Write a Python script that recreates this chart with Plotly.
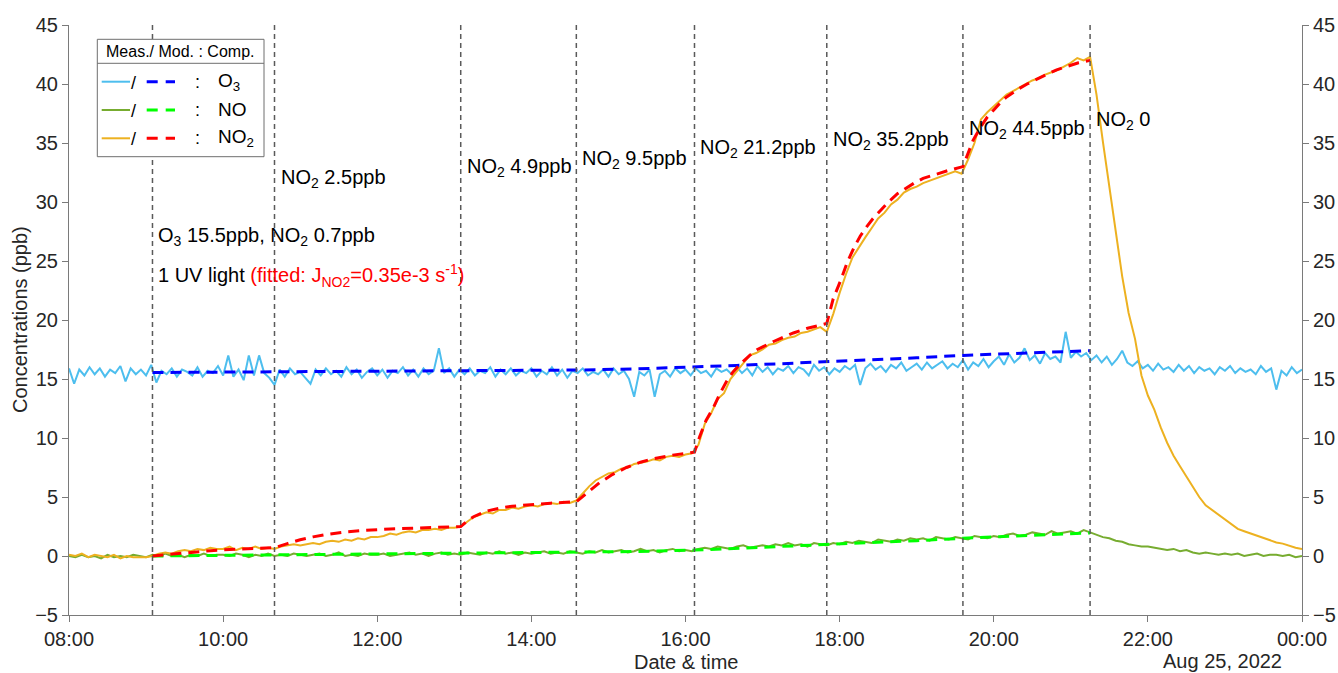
import plotly.graph_objects as go
import pandas as pd

DAY = "2022-08-24"
NEXT_DAY = "2022-08-25"

# ---------------- data ----------------
step_times = ["09:05", "10:40", "13:05", "14:35", "16:07", "17:50", "19:36", "21:15"]

# measured NO2, 5-min steps from 08:00 to 00:00
no2_meas = [
    0.1, 0.0, 0.2, -0.1, 0.1, 0.0, -0.1, 0.1, -0.2, 0.0, -0.1, -0.1,
    -0.1, 0.0, 0.2, 0.3, 0.2, 0.4, 0.5, 0.4, 0.6, 0.5, 0.7, 0.6,
    0.6, 0.8, 0.5, 0.7, 0.6, 0.8, 0.6, 0.7, 0.6, 0.8, 0.9, 1.0,
    0.9, 1.0, 1.1, 1.0, 1.2, 1.3, 1.2, 1.4, 1.3, 1.5, 1.4, 1.6,
    1.6, 1.7, 1.9, 1.8, 2.0, 2.1, 2.0, 2.2, 2.2, 2.3, 2.2, 2.4,
    2.4, 2.5, 2.9, 3.3, 3.5, 3.7, 3.6, 3.9, 3.9, 4.1, 4.0, 4.2,
    4.3, 4.2, 4.4, 4.5, 4.4, 4.6, 4.5, 4.7, 5.3, 5.9, 6.4, 6.7,
    7.0, 7.1, 7.4, 7.5, 7.8, 7.9, 8.0, 8.2, 8.1, 8.4, 8.5, 8.4,
    8.6, 8.7, 9.4, 11.2, 12.1, 13.3, 13.8, 15.0, 15.7, 16.4, 17.0, 17.2,
    17.5, 17.9, 18.0, 18.3, 18.5, 18.6, 18.9, 19.0, 19.2, 19.4, 19.0, 20.5,
    22.3, 23.9, 25.3, 26.2, 27.0, 27.8, 28.6, 29.1, 29.8, 30.2, 30.8, 31.1,
    31.3, 31.6, 31.8, 32.0, 32.2, 32.4, 32.6, 32.4, 33.6, 35.0, 37.0, 37.6,
    38.1, 38.6, 39.1, 39.4, 39.7, 40.0, 40.3, 40.5, 40.8, 41.0, 41.2, 41.5,
    41.8, 42.2, 42.0, 42.3, 39.1, 35.1, 31.3, 27.1, 23.7, 20.6, 18.4, 15.3,
    13.6, 12.4, 10.9, 9.6, 8.5, 7.6, 6.7, 5.8, 5.0, 4.3, 3.9, 3.5,
    3.1, 2.7, 2.3, 2.1, 1.9, 1.7, 1.5, 1.35, 1.15, 1.05, 0.85, 0.7,
    0.6,
]

# measured NO, 5-min steps from 08:00 to 00:00
no_meas = [
    0.0, -0.1, 0.1, -0.1, 0.0, -0.2, 0.1, -0.1, 0.0, -0.1, 0.1, 0.0,
    -0.1, 0.1, 0.0, 0.2, 0.0, 0.1, -0.1, 0.1, 0.0, 0.2, 0.0, 0.1,
    0.1, 0.0, 0.2, 0.1, -0.1, 0.1, 0.0, 0.2, 0.0, 0.1, 0.0, 0.2,
    0.1, 0.0, 0.1, 0.2, 0.0, 0.1, 0.3, 0.0, 0.1, 0.0, 0.2, 0.1,
    0.1, 0.2, 0.0, 0.1, 0.2, 0.3, 0.1, 0.2, 0.0, 0.2, 0.3, 0.1,
    0.2, 0.1, 0.3, 0.2, 0.1, 0.3, 0.2, 0.4, 0.2, 0.3, 0.1, 0.3,
    0.2, 0.3, 0.4, 0.2, 0.3, 0.2, 0.4, 0.3, 0.2, 0.4, 0.3, 0.5,
    0.3, 0.4, 0.5, 0.3, 0.4, 0.6, 0.4, 0.5, 0.3, 0.5, 0.6, 0.4,
    0.5, 0.4, 0.6, 0.7, 0.6, 0.8, 0.7, 0.6, 0.8, 0.9, 0.7, 0.8,
    0.9, 0.8, 1.0, 0.9, 1.1, 0.9, 1.0, 0.8, 1.1, 1.0, 0.9, 1.1,
    1.0, 1.2, 1.1, 1.3, 1.2, 1.1, 1.4, 1.3, 1.2, 1.4, 1.3, 1.5,
    1.4, 1.5, 1.3, 1.6, 1.5, 1.4, 1.6, 1.5, 1.4, 1.7, 1.6, 1.5,
    1.7, 1.6, 1.8, 1.9, 1.7, 1.8, 2.0, 1.9, 1.8, 2.1, 1.9, 2.0,
    2.1, 1.9, 2.2, 2.0, 1.8, 1.6, 1.5, 1.3, 1.2, 1.0, 0.9, 0.8,
    0.8, 0.7, 0.6, 0.5, 0.6, 0.4, 0.5, 0.3, 0.2, 0.3, 0.2, 0.1,
    0.2, 0.1, 0.2, 0.0, 0.1, 0.2, 0.0, 0.1, 0.1, 0.0, 0.1, -0.1,
    0.0,
]

# measured O3, 4-min steps from 08:00 to 00:00
o3_meas = [
    15.9, 14.6, 15.8, 15.3, 16.0, 15.4, 15.9, 15.2, 15.8, 15.5, 16.1, 14.8, 15.9, 15.4, 15.8,
    15.3, 16.2, 14.7, 15.7, 15.4, 15.9, 15.2, 15.8, 15.6, 15.3, 16.0, 15.2, 15.7, 15.5, 16.1,
    15.3, 17.0, 15.2, 15.8, 14.9, 17.0, 15.3, 17.0, 15.5, 15.1, 14.5, 15.8, 15.2, 15.9, 15.4,
    15.6, 15.1, 14.6, 15.8, 15.3, 15.9, 15.4, 15.7, 15.2, 16.0, 15.4, 15.8, 15.1, 15.6, 15.9,
    15.3, 15.8, 15.1, 15.7, 15.5, 16.0, 15.3, 15.8, 15.2, 15.9, 15.4, 15.7, 17.6, 15.5, 15.9,
    15.2, 15.8, 15.4, 15.9, 15.3, 15.7, 15.5, 16.0, 15.2, 15.8, 15.4, 15.9, 15.3, 15.7, 15.5,
    15.9, 15.2, 15.7, 15.4, 16.0, 15.3, 15.8, 15.1, 15.7, 15.5, 15.9, 15.3, 15.6, 15.4, 15.8,
    15.2, 15.9, 15.4, 15.7, 15.0, 13.5, 15.6, 15.3, 15.8, 13.5, 15.4, 15.7, 15.2, 15.9, 15.5,
    15.8, 15.3, 15.9, 15.5, 15.7, 15.2, 15.9, 15.6, 15.8, 15.4, 16.0, 15.5, 15.9, 15.3, 16.1,
    15.6, 16.0, 15.4, 15.9, 15.7, 16.1, 15.5, 16.0, 15.8, 15.3, 16.2, 15.7, 16.0, 15.4, 15.9,
    15.6, 16.1, 15.8, 16.2, 14.5, 15.9, 16.3, 15.8, 16.1, 15.6, 16.2, 15.9, 16.4, 15.7, 16.0,
    16.3, 15.8, 16.4, 15.9, 16.2, 16.5, 15.9, 16.3, 16.0, 16.6, 15.8, 16.4, 16.1, 16.7, 16.0,
    16.5, 16.9, 16.2, 17.1, 16.4, 16.8, 17.6, 16.6, 17.0, 16.3, 17.2, 16.7, 16.9, 16.4, 19.0,
    16.8, 17.3, 16.9, 17.2, 16.6, 17.0, 16.4, 16.9, 16.2, 16.7, 17.4, 16.4, 16.1, 16.5, 15.9,
    16.2, 15.7, 16.3, 15.8, 16.0, 15.6, 16.2, 15.7, 16.1, 15.5, 16.0, 15.7, 15.9, 15.4, 16.0,
    15.7, 16.1, 15.5, 15.9, 15.6, 15.8, 15.4, 16.1, 15.6, 15.9, 14.1, 15.7, 15.3, 16.0, 15.5,
    15.8,
]

# modelled NO2
no2_mod_times = [
    "09:05", "09:20", "09:35", "09:50", "10:05", "10:20", "10:40",
    "10:50", "11:00", "11:10", "11:20", "11:35", "11:50", "12:10", "12:30", "12:50", "13:05",
    "13:10", "13:15", "13:25", "13:35", "13:45", "14:00", "14:15", "14:35",
    "14:43", "14:53", "15:03", "15:14", "15:25", "15:35", "15:50", "16:07",
    "16:11", "16:16", "16:22", "16:27", "16:32", "16:37", "16:43", "16:50", "16:56", "17:09", "17:24", "17:35", "17:50",
    "17:55", "18:01", "18:06", "18:11", "18:16", "18:21", "18:26", "18:32", "18:38", "18:45", "18:52", "18:58",
    "19:05", "19:13", "19:24", "19:36",
    "19:40", "19:44", "19:50", "19:55", "20:00", "20:05", "20:10", "20:18", "20:26", "20:33", "20:41", "20:49",
    "20:57", "21:06", "21:15",
]
no2_mod = [
    0.0, 0.17, 0.32, 0.45, 0.55, 0.63, 0.7,
    1.05, 1.38, 1.62, 1.82, 2.03, 2.17, 2.29, 2.38, 2.45, 2.5,
    2.95, 3.33, 3.8, 4.05, 4.22, 4.38, 4.48, 4.6,
    5.3, 6.2, 6.9, 7.5, 7.95, 8.25, 8.55, 8.8,
    10.1, 11.5, 12.65, 13.8, 14.8, 15.6, 16.3, 17.0, 17.5, 18.2, 18.9, 19.3, 19.7,
    21.8, 23.4, 24.9, 26.1, 27.1, 27.9, 28.6, 29.3, 30.0, 30.7, 31.2, 31.6,
    32.0, 32.3, 32.65, 33.0,
    34.2, 35.25, 36.4, 37.2, 37.8, 38.4, 38.9, 39.5, 40.0, 40.4, 40.8, 41.2,
    41.5, 41.8, 42.0,
]

# modelled O3 and NO
model_times = ["09:05", "10:40", "12:00", "13:05", "14:35", "15:20", "16:07", "16:40",
               "17:15", "17:50", "18:30", "19:00", "19:36", "20:10", "20:45", "21:15"]
o3_mod = [15.55, 15.6, 15.65, 15.68, 15.76, 15.85, 16.0, 16.15,
          16.3, 16.45, 16.65, 16.8, 17.0, 17.15, 17.28, 17.4]
no_mod = [0.0, 0.1, 0.15, 0.2, 0.3, 0.38, 0.5, 0.65,
          0.8, 0.95, 1.15, 1.3, 1.5, 1.65, 1.8, 1.95]

y_ticks = [-5, 0, 5, 10, 15, 20, 25, 30, 35, 40, 45]

# ---------------- helpers ----------------
def ts(hm):
    return pd.Timestamp(f"{DAY} {hm}")

t5 = pd.date_range(f"{DAY} 08:00", periods=len(no2_meas), freq="5min")
t4 = pd.date_range(f"{DAY} 08:00", periods=len(o3_meas), freq="4min")

W, H = 1338, 673
ML, MR, MT, MB = 69, 36, 25, 58   # plot area at page px x 69..1302, y 25..615
PW, PH = W - ML - MR, H - MT - MB


def fx(px):                       # page pixel -> paper
    return (px - ML) / PW


def fy(py):
    return (H - MB - py) / PH


C_O3 = "#4DBEEE"
C_NO = "#77AC30"
C_NO2 = "#EDB120"
C_O3M = "#0000FF"
C_NOM = "#00FF00"
C_NO2M = "#FF0000"
FONT = "Liberation Sans, Arial, Helvetica, sans-serif"
TXT = "#000000"
AX = "#7a7a7a"
DASH = "11px,7px"

fig = go.Figure()

fig.add_trace(go.Scatter(x=t4, y=o3_meas, mode="lines", line=dict(color=C_O3, width=2), name="O3 meas"))
fig.add_trace(go.Scatter(x=t5, y=no_meas, mode="lines", line=dict(color=C_NO, width=2), name="NO meas"))
fig.add_trace(go.Scatter(x=t5, y=no2_meas, mode="lines", line=dict(color=C_NO2, width=2), name="NO2 meas"))

mt = [ts(t) for t in model_times]
fig.add_trace(go.Scatter(x=mt, y=o3_mod, mode="lines",
                         line=dict(color=C_O3M, width=3, dash=DASH), name="O3 mod"))
fig.add_trace(go.Scatter(x=mt, y=no_mod, mode="lines",
                         line=dict(color=C_NOM, width=3, dash=DASH), name="NO mod"))
fig.add_trace(go.Scatter(x=[ts(t) for t in no2_mod_times], y=no2_mod, mode="lines",
                         line=dict(color=C_NO2M, width=3, dash=DASH), name="NO2 mod"))
# anchor right-hand axis
fig.add_trace(go.Scatter(x=[ts("12:00")], y=[None], yaxis="y2", mode="lines",
                         showlegend=False, hoverinfo="skip"))

shapes = []
for st in step_times:
    shapes.append(dict(type="line", xref="x", yref="y domain", x0=ts(st), x1=ts(st), y0=0, y1=1,
                       line=dict(color="#5a5a5a", width=1.5, dash="5px,4px"), layer="above"))

# custom legend box
LB = dict(x0=97.3, x1=264, y0=39.3, y1=156.7, ysep=63.3)
shapes.append(dict(type="rect", xref="paper", yref="paper",
                   x0=fx(LB["x0"]), x1=fx(LB["x1"]), y0=fy(LB["y1"]), y1=fy(LB["y0"]),
                   fillcolor="white", line=dict(color="#6e6e6e", width=1), layer="above"))
shapes.append(dict(type="line", xref="paper", yref="paper",
                   x0=fx(LB["x0"]), x1=fx(LB["x1"]), y0=fy(LB["ysep"]), y1=fy(LB["ysep"]),
                   line=dict(color="#6e6e6e", width=1), layer="above"))

legend_rows = [
    (81.7, C_O3, C_O3M, "O<sub>3</sub>"),
    (110.0, C_NO, C_NOM, "NO"),
    (138.3, C_NO2, C_NO2M, "NO<sub>2</sub>"),
]
annotations = []
for ry, cm, cmod, lab in legend_rows:
    shapes.append(dict(type="line", xref="paper", yref="paper", x0=fx(101.7), x1=fx(130),
                       y0=fy(ry), y1=fy(ry), line=dict(color=cm, width=2), layer="above"))
    shapes.append(dict(type="line", xref="paper", yref="paper", x0=fx(146.7), x1=fx(175),
                       y0=fy(ry), y1=fy(ry), line=dict(color=cmod, width=3, dash="11px,8px"), layer="above"))
    annotations.append(dict(xref="paper", yref="paper", x=fx(133.5), y=fy(ry + 1), text="/",
                            showarrow=False, xanchor="center", yanchor="middle",
                            font=dict(family=FONT, size=18, color=TXT)))
    annotations.append(dict(xref="paper", yref="paper", x=fx(197.5), y=fy(ry), text=":",
                            showarrow=False, xanchor="center", yanchor="middle",
                            font=dict(family=FONT, size=18, color=TXT)))
    annotations.append(dict(xref="paper", yref="paper", x=fx(216), y=fy(ry), text=lab,
                            showarrow=False, xanchor="left", yanchor="middle",
                            font=dict(family=FONT, size=19, color=TXT)))
annotations.append(dict(xref="paper", yref="paper", x=fx(180.5), y=fy(51.5),
                        text="Meas./ Mod. : Comp.", showarrow=False, xanchor="center", yanchor="middle",
                        font=dict(family=FONT, size=16, color=TXT)))

# step labels
step_labels = [
    ("09:05", 27.06, "O<sub>3</sub> 15.5ppb, NO<sub>2</sub> 0.7ppb"),
    ("09:05", 23.8, "1 UV light <span style='color:#FF0000'>(fitted: J<sub>NO2</sub>=0.35e-3 s<sup>-1</sup>)</span>"),
    ("10:40", 32.0, "NO<sub>2</sub> 2.5ppb"),
    ("13:05", 32.9, "NO<sub>2</sub> 4.9ppb"),
    ("14:35", 33.6, "NO<sub>2</sub> 9.5ppb"),
    ("16:07", 34.55, "NO<sub>2</sub> 21.2ppb"),
    ("17:50", 35.25, "NO<sub>2</sub> 35.2ppb"),
    ("19:36", 36.15, "NO<sub>2</sub> 44.5ppb"),
    ("21:15", 36.9, "NO<sub>2</sub> 0"),
]
for st, yv, txt in step_labels:
    annotations.append(dict(xref="x", yref="y", x=ts(st), y=yv, text=txt, showarrow=False,
                            xanchor="left", yanchor="middle", xshift=4,
                            font=dict(family=FONT, size=20, color=TXT)))

annotations.append(dict(xref="paper", yref="paper", x=0.5, y=fy(662), text="Date & time",
                        showarrow=False, xanchor="center", yanchor="middle",
                        font=dict(family=FONT, size=20, color="#262626")))
annotations.append(dict(xref="paper", yref="paper", x=fx(1283.5), y=fy(661), text="Aug 25, 2022",
                        showarrow=False, xanchor="right", yanchor="middle",
                        font=dict(family=FONT, size=20, color="#262626")))
annotations.append(dict(xref="paper", yref="paper", x=fx(20), y=0.5, text="Concentrations (ppb)",
                        showarrow=False, xanchor="center", yanchor="middle", textangle=-90,
                        font=dict(family=FONT, size=20, color="#262626")))

axis_common = dict(showgrid=False, zeroline=False, showline=True, linecolor=AX, linewidth=1,
                   ticks="outside", ticklen=6, tickcolor=AX, tickwidth=1, automargin=False,
                   tickfont=dict(family=FONT, size=20, color="#262626"))

fig.update_layout(
    width=W, height=H,
    margin=dict(l=ML, r=MR, t=MT, b=MB, autoexpand=False),
    paper_bgcolor="white", plot_bgcolor="white",
    showlegend=False,
    xaxis=dict(type="date", range=[ts("08:00"), pd.Timestamp(f"{NEXT_DAY} 00:00")],
               tick0=ts("08:00"), dtick=2 * 3600 * 1000, tickformat="%H:%M", **axis_common),
    yaxis=dict(range=[-5, 45], tickmode="array", tickvals=y_ticks, **axis_common),
    yaxis2=dict(range=[-5, 45], tickmode="array", tickvals=y_ticks, overlaying="y", side="right",
                anchor="x", **axis_common),
    shapes=shapes,
    annotations=annotations,
)

fig.write_html("out.html",
               config={"displayModeBar": False},
               post_script="document.body.style.margin='0px';document.body.style.overflow='hidden';")
